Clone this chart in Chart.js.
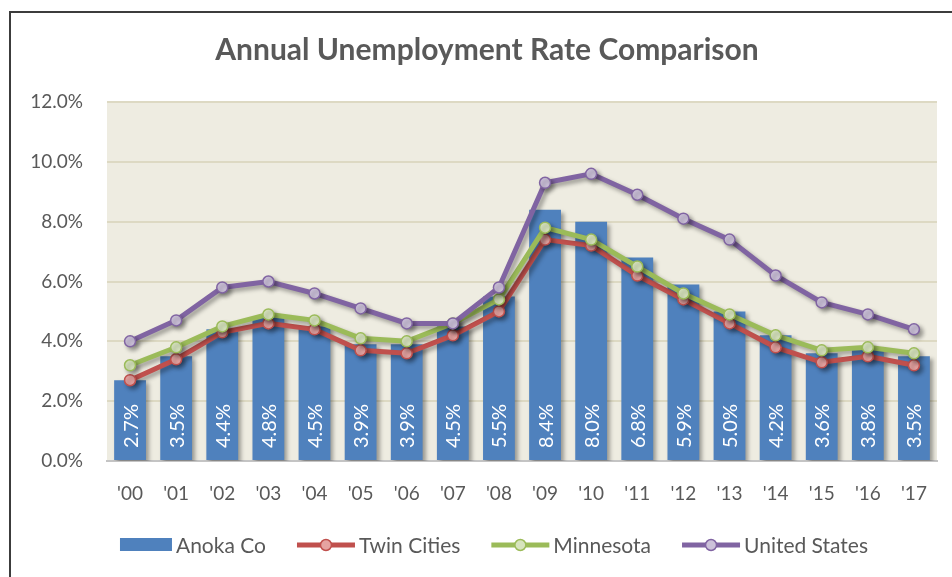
<!DOCTYPE html>
<html>
<head>
<meta charset="utf-8">
<script src="https://cdn.jsdelivr.net/npm/chart.js@4/dist/chart.umd.min.js"></script>
<style>
  html, body { margin: 0; padding: 0; background: #fff; }
  #wrap { width: 952px; height: 577px; }
</style>
</head>
<body>
<div id="wrap"><canvas id="unemployment" width="952" height="577"></canvas></div>
<script>
const years = ["'00", "'01", "'02", "'03", "'04", "'05", "'06", "'07", "'08", "'09", "'10", "'11", "'12", "'13", "'14", "'15", "'16", "'17"];
const anoka_co = [2.7, 3.5, 4.4, 4.8, 4.5, 3.9, 3.9, 4.5, 5.5, 8.4, 8.0, 6.8, 5.9, 5.0, 4.2, 3.6, 3.8, 3.5];
const twin_cities = [2.7, 3.4, 4.3, 4.6, 4.4, 3.7, 3.6, 4.2, 5.0, 7.4, 7.2, 6.2, 5.4, 4.6, 3.8, 3.3, 3.5, 3.2];
const minnesota = [3.2, 3.8, 4.5, 4.9, 4.7, 4.1, 4.0, 4.6, 5.4, 7.8, 7.4, 6.5, 5.6, 4.9, 4.2, 3.7, 3.8, 3.6];
const united_states = [4.0, 4.7, 5.8, 6.0, 5.6, 5.1, 4.6, 4.6, 5.8, 9.3, 9.6, 8.9, 8.1, 7.4, 6.2, 5.3, 4.9, 4.4];
const y_ticks = [0, 2, 4, 6, 8, 10, 12];

const FONT = 'Lato, "Noto Sans", sans-serif';
const GREY = '#595959';

// beige plot area + dark frame + title + legend
const decor = {
    id: 'decor',
    beforeDraw(chart) {
        const { ctx, chartArea: a } = chart;
        ctx.save();
        ctx.fillStyle = '#EEECE1';
        ctx.fillRect(a.left, a.top, a.right - a.left, a.bottom - a.top);
        ctx.restore();
    },
    beforeDatasetDraw(chart, args) {
        const ctx = chart.ctx;
        ctx.save();
        ctx.shadowColor = 'rgba(0,0,0,0.35)';
        ctx.shadowBlur = 4;
        ctx.shadowOffsetX = 3;
        ctx.shadowOffsetY = 3;
    },
    afterDatasetDraw(chart, args) {
        const ctx = chart.ctx;
        ctx.restore();
        if (args.index !== 0) return;
        // white rotated labels inside the bars
        const meta = chart.getDatasetMeta(0);
        ctx.save();
        ctx.fillStyle = '#fff';
        ctx.font = '20px ' + FONT;
        ctx.textAlign = 'left';
        ctx.textBaseline = 'middle';
        meta.data.forEach((bar, i) => {
            ctx.save();
            ctx.translate(bar.x, chart.chartArea.bottom - 13);
            ctx.rotate(-Math.PI / 2);
            ctx.fillText(anoka_co[i].toFixed(1) + '%', 0, 1);
            ctx.restore();
        });
        ctx.restore();
    },
    afterDraw(chart) {
        const ctx = chart.ctx;
        ctx.save();
        // frame
        ctx.strokeStyle = '#3c3c3c';
        ctx.lineWidth = 2;
        ctx.beginPath();
        ctx.moveTo(10, 577);
        ctx.lineTo(10, 12);
        ctx.lineTo(952, 12);
        ctx.stroke();

        // title
        ctx.fillStyle = GREY;
        ctx.font = 'bold 30px ' + FONT;
        ctx.textAlign = 'center';
        ctx.textBaseline = 'middle';
        ctx.fillText('Annual Unemployment Rate Comparison', 487, 50);

        // legend
        ctx.font = '21px ' + FONT;
        ctx.textAlign = 'left';
        const items = chart.data.datasets;
        const symW = [52, 58, 58, 58];
        const gap = 4, spacing = 31;
        let total = 0;
        items.forEach((ds, i) => {
            total += symW[i] + gap + ctx.measureText(ds.label).width + (i < items.length - 1 ? spacing : 0);
        });
        let x = 494 - total / 2;
        const y = 545;
        items.forEach((ds, i) => {
            if (ds.type === 'bar') {
                ctx.fillStyle = ds.backgroundColor;
                ctx.fillRect(x, y - 7, symW[i], 13);
            } else {
                ctx.strokeStyle = ds.borderColor;
                ctx.lineWidth = 5;
                ctx.beginPath();
                ctx.moveTo(x, y);
                ctx.lineTo(x + symW[i], y);
                ctx.stroke();
                ctx.beginPath();
                ctx.arc(x + symW[i] / 2, y, 5.5, 0, Math.PI * 2);
                ctx.fillStyle = ds.pointBackgroundColor;
                ctx.fill();
                ctx.lineWidth = 1.5;
                ctx.stroke();
            }
            x += symW[i] + gap;
            ctx.fillStyle = GREY;
            ctx.fillText(ds.label, x, y + 1);
            x += ctx.measureText(ds.label).width + spacing;
        });
        ctx.restore();
    }
};

function lineSet(label, data, color, fill, order) {
    return {
        type: 'line',
        label: label,
        data: data,
        borderColor: color,
        backgroundColor: color,
        borderWidth: 5,
        pointRadius: 5.5,
        pointBorderWidth: 1.5,
        pointBackgroundColor: fill,
        pointBorderColor: color,
        tension: 0,
        order: order
    };
}

new Chart(
    document.getElementById('unemployment'),
    {
        type: 'bar',
        data: {
            labels: years,
            datasets: [
                {
                    type: 'bar',
                    label: 'Anoka Co',
                    data: anoka_co,
                    backgroundColor: '#4F81BD',
                    barPercentage: 0.69,
                    categoryPercentage: 1,
                    order: 4
                },
                lineSet('Twin Cities', twin_cities, '#C0504D', '#E6A3A1', 3),
                lineSet('Minnesota', minnesota, '#9BBB59', '#D7E4BD', 2),
                lineSet('United States', united_states, '#8064A2', '#CCC1DA', 1)
            ]
        },
        options: {
            responsive: false,
            animation: false,
            layout: { padding: { left: 17, top: 102, right: 15, bottom: 76 } },
            plugins: {
                legend: { display: false },
                title: { display: false },
                tooltip: { enabled: false }
            },
            scales: {
                x: {
                    offset: true,
                    grid: { display: false, drawTicks: false },
                    border: { color: '#C4C4C4', width: 2 },
                    ticks: { color: GREY, font: { family: FONT, size: 19 }, padding: 21 },
                    afterFit(scale) { scale.height = 40; }
                },
                y: {
                    min: 0,
                    max: 12,
                    afterBuildTicks(scale) { scale.ticks = y_ticks.map(v => ({ value: v })); },
                    grid: { color: '#DDD9C3', lineWidth: 2, drawTicks: false },
                    border: { display: false },
                    ticks: {
                        color: GREY,
                        font: { family: FONT, size: 19 },
                        padding: 24,
                        callback: v => v.toFixed(1) + '%'
                    },
                    afterFit(scale) { scale.width = 90; }
                }
            }
        },
        plugins: [decor]
    }
);
</script>
</body>
</html>
